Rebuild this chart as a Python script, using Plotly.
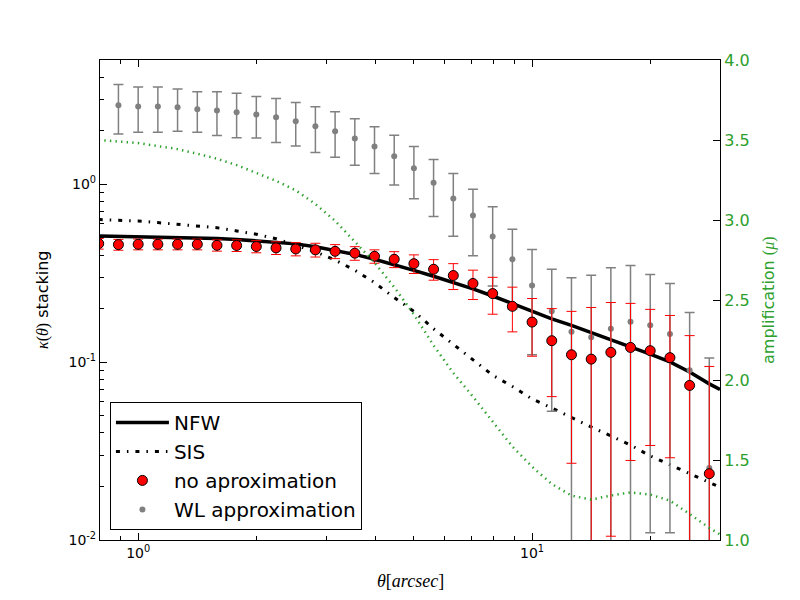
import plotly.graph_objects as go

# ---- data ----
theta = [0.794, 0.891, 1.0, 1.122, 1.259, 1.413, 1.585, 1.778, 1.995, 2.239,
         2.512, 2.818, 3.162, 3.548, 3.981, 4.467, 5.012, 5.623, 6.310, 7.079,
         7.943, 8.913, 10.0, 11.22, 12.59, 14.13, 15.85, 17.78, 19.95, 22.39,
         25.12, 28.18]

kappa_noapprox = [0.464, 0.458, 0.460, 0.460, 0.460, 0.460, 0.454, 0.453, 0.447, 0.439,
                  0.433, 0.428, 0.420, 0.410, 0.394, 0.379, 0.358, 0.333, 0.307, 0.277,
                  0.243, 0.206, 0.168, 0.132, 0.110, 0.104, 0.1135, 0.121, 0.116, 0.106,
                  0.074, 0.0236]
err_noapprox = [0.032, 0.032, 0.032, 0.032, 0.032, 0.032, 0.033, 0.034, 0.035, 0.036,
                0.037, 0.038, 0.038, 0.036, 0.034, 0.039, 0.043, 0.044, 0.051, 0.052,
                0.057, 0.058, 0.060, 0.068, 0.083, 0.099, 0.103, 0.093, 0.082, 0.077,
                0.067, 0.071]

kappa_wl = [None, 2.78, 2.74, 2.74, 2.71, 2.64, 2.60, 2.54, 2.47, 2.38,
            2.26, 2.12, 1.99, 1.81, 1.63, 1.44, 1.23, 1.02, 0.831, 0.667,
            0.508, 0.379, 0.270, 0.193, 0.148, 0.138, 0.154, 0.169, 0.161, 0.144,
            0.090, 0.0254]
err_wl = [None, 0.86, 0.78, 0.78, 0.72, 0.68, 0.72, 0.71, 0.65, 0.66,
          0.62, 0.61, 0.57, 0.53, 0.48, 0.45, 0.40, 0.36, 0.32, 0.27,
          0.24, 0.18, 0.16, 0.14, 0.15, 0.17, 0.185, 0.18, 0.15, 0.133,
          0.10, 0.08]

theta_model = theta + [30.0]
kappa_nfw = [0.5125, 0.510, 0.508, 0.5065, 0.504, 0.5015, 0.4955, 0.490, 0.482, 0.4735,
             0.4625, 0.4455, 0.4237, 0.4036, 0.379, 0.3547, 0.3283, 0.304, 0.281, 0.258,
             0.2355, 0.214, 0.194, 0.175, 0.161, 0.147, 0.133, 0.122, 0.111, 0.1004,
             0.0880, 0.0755, 0.0702]
kappa_sis = [0.634, 0.628, 0.622, 0.609, 0.596, 0.582, 0.570, 0.547, 0.524, 0.494,
             0.454, 0.418, 0.375, 0.329, 0.280, 0.231, 0.193, 0.154, 0.126, 0.1027,
             0.0844, 0.0730, 0.0621, 0.0553, 0.0488, 0.0432, 0.0385, 0.0342, 0.0297, 0.0265,
             0.0235, 0.0211, 0.0198]
mu = [3.50, 3.49, 3.481, 3.462, 3.443, 3.414, 3.383, 3.343, 3.295, 3.245,
      3.185, 3.10, 2.995, 2.865, 2.734, 2.58, 2.41, 2.216, 2.044, 1.896,
      1.739, 1.584, 1.458, 1.35, 1.2775, 1.2525, 1.278, 1.2975, 1.284, 1.246,
      1.1625, 1.076, 1.035]

x_tickvals = [1, 10]
x_ticktext = ["10<sup>0</sup>", "10<sup>1</sup>"]
x_minor = [0.8, 0.9, 2, 3, 4, 5, 6, 7, 8, 9, 20, 30]
y_tickvals = [0.01, 0.1, 1]
y_ticktext = ["10<sup>-2</sup>", "10<sup>-1</sup>", "10<sup>0</sup>"]
y_minor = [0.02, 0.03, 0.04, 0.05, 0.06, 0.07, 0.08, 0.09,
           0.2, 0.3, 0.4, 0.5, 0.6, 0.7, 0.8, 0.9, 2, 3, 4, 5]
y2_tickvals = [1.0, 1.5, 2.0, 2.5, 3.0, 3.5, 4.0]

GREEN = "#2ca02c"

fig = go.Figure()

fig.add_trace(go.Scatter(
    x=theta_model, y=kappa_nfw, mode="lines", name="NFW",
    line=dict(color="black", width=3.5), legendrank=1))
fig.add_trace(go.Scatter(
    x=theta_model, y=kappa_sis, mode="lines", name="SIS",
    line=dict(color="black", width=3, dash="4px,7px,1.5px,7px"), legendrank=2))
fig.add_trace(go.Scatter(
    x=theta, y=kappa_wl, mode="markers", name="WL approximation",
    marker=dict(color="gray", size=6),
    error_y=dict(type="data", array=err_wl, color="gray", thickness=1.5, width=5),
    legendrank=4))
fig.add_trace(go.Scatter(
    x=theta, y=kappa_noapprox, mode="markers", name="no aproximation",
    marker=dict(color="red", size=10, line=dict(color="black", width=1)),
    error_y=dict(type="data", array=err_noapprox, color="red", thickness=1, width=5),
    legendrank=3))
fig.add_trace(go.Scatter(
    x=theta_model, y=mu, mode="lines", yaxis="y2", showlegend=False,
    line=dict(color=GREEN, width=2.5, dash="1.4px,4.2px")))

tickfont = dict(family="DejaVu Sans", size=14, color="black")

fig.update_layout(
    width=800, height=600,
    margin=dict(l=92, r=88, t=52, b=68),
    paper_bgcolor="white", plot_bgcolor="white",
    font=dict(family="DejaVu Sans", color="black"),
    showlegend=True,
    legend=dict(x=0.016, y=0.021, xanchor="left", yanchor="bottom",
                bgcolor="white", bordercolor="black", borderwidth=1,
                itemwidth=53,
                font=dict(family="DejaVu Sans", size=20, color="black"),
                traceorder="normal"),
    xaxis=dict(type="log", range=[-0.09691, 1.47712],
               showline=True, linecolor="black", linewidth=1.2, mirror="ticks",
               ticks="inside", ticklen=7, tickcolor="black", tickwidth=1,
               tickmode="array", tickvals=x_tickvals, ticktext=x_ticktext,
               tickfont=tickfont, showgrid=False, zeroline=False,
               minor=dict(tickmode="array", tickvals=x_minor, ticks="inside",
                          ticklen=4, tickcolor="black", showgrid=False)),
    yaxis=dict(type="log", range=[-2, 0.69897],
               showline=True, linecolor="black", linewidth=1.2,
               ticks="inside", ticklen=7, tickcolor="black", tickwidth=1,
               tickmode="array", tickvals=y_tickvals, ticktext=y_ticktext,
               tickfont=tickfont, showgrid=False, zeroline=False,
               minor=dict(tickmode="array", tickvals=y_minor, ticks="inside",
                          ticklen=4, tickcolor="black", showgrid=False)),
    yaxis2=dict(overlaying="y", side="right", range=[1, 4],
                showline=True, linecolor="black", linewidth=1.2,
                ticks="inside", ticklen=7, tickcolor="black", tickwidth=1,
                tickmode="array", tickvals=y2_tickvals, tickformat=".1f",
                tickfont=dict(family="DejaVu Sans", size=16, color=GREEN),
                showgrid=False, zeroline=False),
    annotations=[
        dict(text='<span style="font-family:Liberation Serif"><i>κ</i>(<i>θ</i>)</span> stacking',
             xref="paper", yref="paper", x=0, y=0.5, xshift=-58,
             xanchor="center", yanchor="middle", textangle=-90, showarrow=False,
             font=dict(family="DejaVu Sans", size=16, color="black")),
        dict(text='amplification <span style="font-family:Liberation Serif">(<i>μ</i>)</span>',
             xref="paper", yref="paper", x=1, y=0.5, xshift=48,
             xanchor="center", yanchor="middle", textangle=-90, showarrow=False,
             font=dict(family="DejaVu Sans", size=16, color=GREEN)),
        dict(text="<i>θ</i>[<i>arcsec</i>]",
             xref="paper", yref="paper", x=0.5, y=0, yshift=-41,
             xanchor="center", yanchor="middle", showarrow=False,
             font=dict(family="Liberation Serif", size=18, color="black")),
    ],
)

fig.write_html("out.html")
